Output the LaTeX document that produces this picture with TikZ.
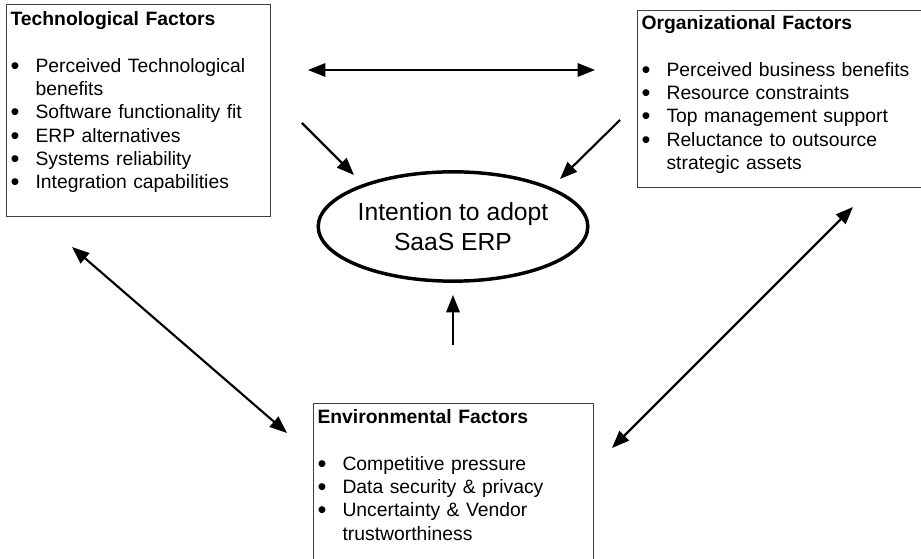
\documentclass[tikz,border=0pt]{standalone}
\usepackage{fontspec}
\setmainfont{Liberation Sans}
\usepackage{tikz}
\usetikzlibrary{arrows.meta,positioning,shapes}

% one bullet line of a factor box, and its continuation line
\newcommand{\fitem}[1]{\par\noindent\makebox[18.75pt][l]{\raisebox{-1.6pt}{\fontsize{19pt}{0pt}\selectfont\textbullet}}#1}
\newcommand{\fmore}[1]{\par\noindent\hspace*{18.75pt}#1}

\begin{document}
\begin{tikzpicture}[
    x=0.75pt, y=-0.75pt, % work in pixels, y going down
    line width=1.6pt,
    >={Triangle[length=13pt,width=10pt]}, % filled arrowheads
    factor/.style={draw=black!75, line width=0.8pt, anchor=north west,
        inner ysep=0pt, inner xsep=3pt, align=left,
        font=\fontsize{14.5pt}{17.5pt}\selectfont},
    intention/.style={ellipse, draw, line width=2.6pt, inner sep=0pt,
        minimum width=183pt, minimum height=82pt, align=center,
        font=\fontsize{18.5pt}{22.5pt}\selectfont}
]
\useasboundingbox (0,0) rectangle (921,559);

% Factor boxes
\node[factor, text width=192pt, text height=15.75pt, text depth=143.25pt] (tech) at (6,4) {%
    \textbf{Technological Factors}\par\vspace{17.5pt}
    \fitem{Perceived Technological}
    \fmore{benefits}
    \fitem{Software functionality fit}
    \fitem{ERP alternatives}
    \fitem{Systems reliability}
    \fitem{Integration capabilities}};

\node[factor, text width=210pt, text height=14.25pt, text depth=118.5pt] (org) at (637,10) {%
    \textbf{Organizational Factors}\par\vspace{17.5pt}
    \fitem{Perceived business benefits}
    \fitem{Resource constraints}
    \fitem{Top management support}
    \fitem{Reluctance to outsource}
    \fmore{strategic assets}};

\node[factor, text width=204pt, text height=15pt, text depth=120pt] (env) at (313,403) {%
    \textbf{Environmental Factors}\par\vspace{17.5pt}
    \fitem{Competitive pressure}
    \fitem{Data security \& privacy}
    \fitem{Uncertainty \& Vendor}
    \fmore{trustworthiness}};

% Outcome
\node[intention] (adopt) at (453,226.5) {Intention to adopt\\SaaS ERP};

% Arrow ends
\coordinate (tr1) at (308,70);
\coordinate (or1) at (595,70);
\coordinate (tr2) at (302,123);
\coordinate (ad1) at (354,175);
\coordinate (or2) at (620,120);
\coordinate (ad2) at (560,179);
\coordinate (en1) at (453,345);
\coordinate (ad3) at (453,295);
\coordinate (tr3) at (72,247);
\coordinate (en2) at (287,433);
\coordinate (or3) at (853,207);
\coordinate (en3) at (612,448);

% Connectors
\path (tr1) edge[<->] (or1);
\path (tr2) edge[->] (ad1);
\path (or2) edge[->] (ad2);
\path (en1) edge[->] (ad3);
\path (tr3) edge[<->] (en2);
\path (or3) edge[<->] (en3);

\end{tikzpicture}
\end{document}
